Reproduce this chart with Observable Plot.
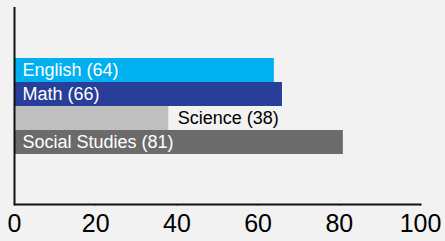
<!DOCTYPE html>
<html>
<head>
<meta charset="utf-8">
<script src="https://cdn.jsdelivr.net/npm/d3@7"></script>
<script src="https://cdn.jsdelivr.net/npm/@observablehq/plot@0.6"></script>
<style>
  html, body { margin: 0; padding: 0; background: #f2f2f2; }
  #chart svg { display: block; }
</style>
</head>
<body>
<div id="chart"></div>
<script>
const subjects = ["English", "Math", "Science", "Social Studies"];
const scores = [64, 66, 38, 81];
const colors = ["#00b0f0", "#283e98", "#bfbfbf", "#6b6b6b"];
const xTicks = [0, 20, 40, 60, 80, 100];

const data = subjects.map((s, i) => ({subject: s, score: scores[i], label: `${s} (${scores[i]})`}));
const inside = data.filter(d => d.score >= 50);
const outside = data.filter(d => d.score < 50);

const chart = Plot.plot({
  width: 445,
  height: 241,
  marginLeft: 14,
  marginRight: 25,
  marginTop: 7,
  marginBottom: 37,
  style: {background: "#f2f2f2", fontFamily: "'Liberation Sans', Arial, sans-serif", color: "#000", overflow: "visible"},
  x: {domain: [0, 100], ticks: xTicks},
  y: {domain: subjects, paddingInner: 0, paddingOuter: 2, axis: null},
  color: {domain: subjects, range: colors},
  marks: [
    Plot.barX(data, {x: "score", y: "subject", fill: "subject"}),
    Plot.text(inside, {x: 0, y: "subject", text: "label", textAnchor: "start", dx: 8, fill: "white", fontSize: 18}),
    Plot.text(outside, {x: "score", y: "subject", text: "label", textAnchor: "start", dx: 9, fill: "black", fontSize: 18}),
    Plot.axisX({ticks: xTicks, tickSize: 2, tickPadding: 8, fontSize: 25, label: null, stroke: "#888", fill: "#000"}),
    Plot.ruleX([0], {stroke: "#111", strokeWidth: 2}),
    Plot.frame({anchor: "bottom", stroke: "#111", strokeWidth: 2})
  ]
});
document.getElementById("chart").appendChild(chart);
</script>
</body>
</html>
